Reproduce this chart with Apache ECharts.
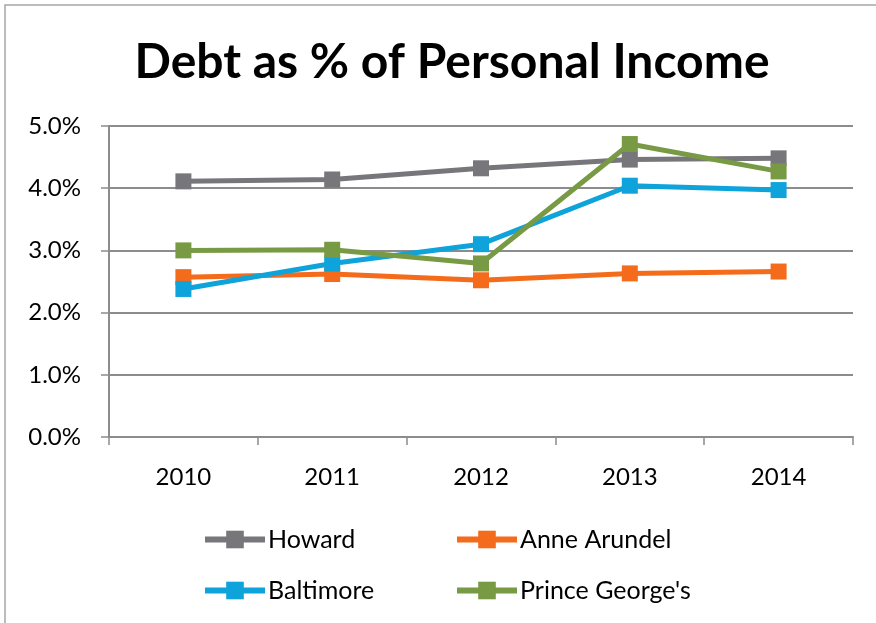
<!DOCTYPE html>
<html>
<head>
<meta charset="utf-8">
<script src="https://cdn.jsdelivr.net/npm/echarts@6/dist/echarts.min.js"></script>
<style>
  html, body { margin: 0; padding: 0; background: #fff; }
  #chart { width: 876px; height: 623px; }
</style>
</head>
<body>
<div id="chart"></div>
<script>
// Debt as a share of personal income, by county (percent)
const years = ['2010', '2011', '2012', '2013', '2014'];
const howard = [4.11, 4.14, 4.32, 4.46, 4.48];
const anneArundel = [2.57, 2.62, 2.52, 2.63, 2.66];
const baltimore = [2.38, 2.79, 3.10, 4.04, 3.97];
const princeGeorges = [3.00, 3.01, 2.79, 4.71, 4.27];

const seriesNames = ['Howard', 'Anne Arundel', 'Baltimore', "Prince George's"];
const seriesValues = [howard, anneArundel, baltimore, princeGeorges];
const seriesColors = ['#77777b', '#f46b1c', '#0ea3da', '#789a44'];

const FONT = 'Lato, "Open Sans", sans-serif';

const chart = echarts.init(document.getElementById('chart'));

// one legend block per county, laid out as a 2 x 2 grid
const legendSlots = [
  { left: 202, top: 527 },
  { left: 454, top: 527 },
  { left: 202, top: 578 },
  { left: 454, top: 578 }
];

chart.setOption({
  animation: false,
  backgroundColor: '#ffffff',
  title: {
    text: 'Debt as % of Personal Income',
    left: 447,
    textAlign: 'center',
    top: 34,
    textStyle: { fontFamily: FONT, fontSize: 48, fontWeight: 'bold', color: '#000' }
  },
  graphic: [{
    type: 'rect',
    shape: { x: 5, y: 5, width: 900, height: 700 },
    style: { fill: 'none', stroke: '#a6a6a6', lineWidth: 1.5 },
    silent: true
  }],
  legend: seriesNames.map((name, i) => ({
    data: [name],
    left: legendSlots[i].left,
    top: legendSlots[i].top,
    itemWidth: 60,
    itemHeight: 22,
    itemGap: 0,
    padding: 0,
    selectedMode: false,
    lineStyle: { width: 6 },
    textStyle: { fontFamily: FONT, fontSize: 25, color: '#000', padding: [0, 0, 0, -2] }
  })),
  grid: { left: 109, right: 23, top: 126, bottom: 186, containLabel: false },
  xAxis: {
    type: 'category',
    data: years,
    boundaryGap: true,
    axisLine: { lineStyle: { color: '#8c8c8c', width: 2 } },
    axisTick: { show: true, length: 8, lineStyle: { color: '#8c8c8c', width: 1.5 } },
    axisLabel: { margin: 28, fontFamily: FONT, fontSize: 24, color: '#000' },
    splitLine: { show: false }
  },
  yAxis: {
    type: 'value',
    min: 0,
    max: 5,
    interval: 1,
    axisLine: { show: true, lineStyle: { color: '#8c8c8c', width: 2 } },
    axisTick: { show: true, length: 8, lineStyle: { color: '#8c8c8c', width: 1.5 } },
    axisLabel: {
      margin: 28,
      fontFamily: FONT,
      fontSize: 24,
      color: '#000',
      formatter: v => v.toFixed(1) + '%'
    },
    splitLine: { show: true, lineStyle: { color: '#8c8c8c', width: 2 } }
  },
  series: seriesNames.map((name, i) => ({
    name: name,
    type: 'line',
    data: seriesValues[i],
    color: seriesColors[i],
    symbol: 'rect',
    symbolSize: 16,
    showAllSymbol: true,
    lineStyle: { width: 5, color: seriesColors[i] },
    itemStyle: { color: seriesColors[i] },
    emphasis: { disabled: true }
  }))
});
</script>
</body>
</html>
